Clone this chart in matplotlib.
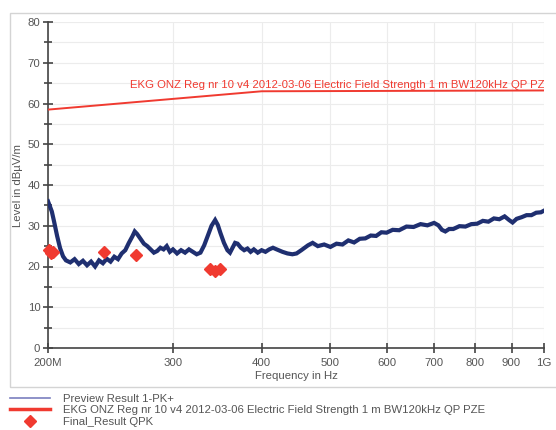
import matplotlib
matplotlib.use("Agg")
import matplotlib.pyplot as plt
from matplotlib.patches import Rectangle
from matplotlib.lines import Line2D
from matplotlib.ticker import FixedLocator, NullFormatter, MultipleLocator

plt.rcParams['font.family'] = ['Liberation Sans', 'DejaVu Sans']

# Preview Result 1-PK+ (MHz / dBuV/m)
freq_mhz = [200, 201, 202.5, 204, 206, 208, 210, 212, 215, 218, 221, 224, 227, 230, 233,
            236, 239, 242, 245, 248, 251, 254, 257, 260, 263, 265, 267, 270, 273, 276,
            279, 282, 285, 288, 291, 294, 297, 300, 304, 308, 312, 316, 320, 324, 328,
            332, 336, 340, 344, 347, 350, 354, 358, 361, 364, 367, 370, 374, 378, 382,
            386, 390, 395, 400, 405, 410, 415, 420, 428, 435, 442, 448, 455, 465, 472,
            480, 490, 500, 510, 520, 530, 540, 550, 560, 570, 580, 590, 600, 612, 625,
            640, 655, 670, 685, 700, 710, 718, 726, 735, 745, 760, 775, 790, 805, 820,
            835, 850, 865, 880, 893, 903, 915, 930, 945, 960, 975, 990, 1000]
level_pk = [36.0, 35.0, 33.5, 31.0, 27.5, 24.5, 22.5, 21.5, 21.0, 21.8, 20.6, 21.4, 20.3, 21.2, 20.0,
            21.5, 20.8, 21.9, 21.2, 22.4, 21.8, 23.2, 24.0, 25.8, 27.4, 28.6, 28.0, 26.8, 25.6, 25.0,
            24.2, 23.4, 23.8, 24.6, 24.2, 25.0, 23.6, 24.2, 23.2, 24.0, 23.4, 24.2, 23.6, 23.0, 23.4,
            25.2, 27.6, 30.0, 31.4, 30.2, 28.2, 25.8, 24.0, 23.4, 24.6, 25.8, 25.6, 24.6, 24.0, 24.4,
            23.6, 24.2, 23.4, 24.0, 23.6, 24.2, 24.6, 24.2, 23.6, 23.2, 23.0, 23.2, 24.0, 25.2, 25.8,
            25.0, 25.4, 24.8, 25.6, 25.4, 26.4, 25.9, 26.8, 26.9, 27.6, 27.5, 28.4, 28.3, 29.0, 28.9,
            29.8, 29.7, 30.4, 30.1, 30.7, 30.1, 29.0, 28.6, 29.2, 29.2, 29.9, 29.8, 30.4, 30.5, 31.2,
            31.0, 31.8, 31.6, 32.3, 31.4, 30.8, 31.7, 32.1, 32.6, 32.6, 33.2, 33.3, 33.7]

# limit line
limit_freq = [200, 400, 1000]
limit_level = [58.5, 63.0, 63.2]
limit_name = "EKG ONZ Reg nr 10 v4 2012-03-06 Electric Field Strength 1 m BW120kHz QP PZE"

# Final_Result QPK
qpk_freq = [200.5, 201.8, 203.0, 240, 266, 338, 344, 349]
qpk_level = [24.1, 23.3, 23.6, 23.6, 22.8, 19.3, 19.0, 19.3]

xticks = [200, 300, 400, 500, 600, 700, 800, 900, 1000]
xticklabels = ["200M", "300", "400", "500", "600", "700", "800", "900", "1G"]

txt = "#555555"
navy = "#1f2f70"
red = "#f03a30"
fs = 8.2

fig = plt.figure(figsize=(5.56, 4.30), dpi=100)
# outer frame around the plot
fig.patches.append(Rectangle((10 / 556, 43 / 430), 1.0, 374 / 430, transform=fig.transFigure,
                             fill=False, edgecolor="#d4d4d4", linewidth=1.0))

ax = fig.add_axes([48 / 556, 82 / 430, 496 / 556, 326 / 430])
ax.set_xscale("log")
ax.set_xlim(200, 1000)
ax.set_ylim(0, 80)

ax.plot(freq_mhz, level_pk, color=navy, linewidth=3.0, solid_joinstyle="miter", zorder=3)
ax.plot(limit_freq, limit_level, color=red, linewidth=1.4, zorder=3)
ax.plot(qpk_freq, qpk_level, linestyle="none", marker="D", markersize=6, color=red,
        markeredgecolor=red, zorder=4, clip_on=False)
ax.text(261, 64.5, limit_name, color=red, fontsize=fs, va="center", ha="left", clip_on=True)

ax.xaxis.set_major_locator(FixedLocator(xticks))
ax.xaxis.set_minor_locator(FixedLocator([]))
ax.xaxis.set_minor_formatter(NullFormatter())
ax.set_xticklabels(xticklabels)
ax.yaxis.set_major_locator(MultipleLocator(10))
ax.yaxis.set_minor_locator(MultipleLocator(5))

ax.grid(True, which="both", color="#ececec", linewidth=0.8)
ax.set_axisbelow(True)
for s in ["top", "right"]:
    ax.spines[s].set_visible(False)
for s in ["left", "bottom"]:
    ax.spines[s].set_color("#444444")
    ax.spines[s].set_linewidth(1.2)
ax.tick_params(which="both", direction="inout", color="#444444", width=1.2, labelsize=fs,
               labelcolor=txt)
ax.tick_params(which="major", length=7)
ax.tick_params(which="minor", length=6)
ax.tick_params(axis="x", pad=4)
ax.tick_params(axis="y", pad=2)

ax.set_xlabel("Frequency in Hz", fontsize=fs, color=txt, labelpad=2)
ax.set_ylabel("Level in dBµV/m", fontsize=fs, color=txt, labelpad=3)

handles = [Line2D([], [], color="#7a7fbf", linewidth=1.2),
           Line2D([], [], color=red, linewidth=2.5),
           Line2D([], [], color=red, linestyle="none", marker="D", markersize=6)]
labels = ["Preview Result 1-PK+", limit_name, "Final_Result QPK"]
fig.legend(handles, labels, loc="upper left", bbox_to_anchor=(10 / 556, 36 / 430),
           frameon=False, fontsize=fs, labelcolor=txt, handlelength=3.5,
           handletextpad=1.15, labelspacing=0.12, borderpad=0, borderaxespad=0)

fig.savefig("out.png", dpi=100)
